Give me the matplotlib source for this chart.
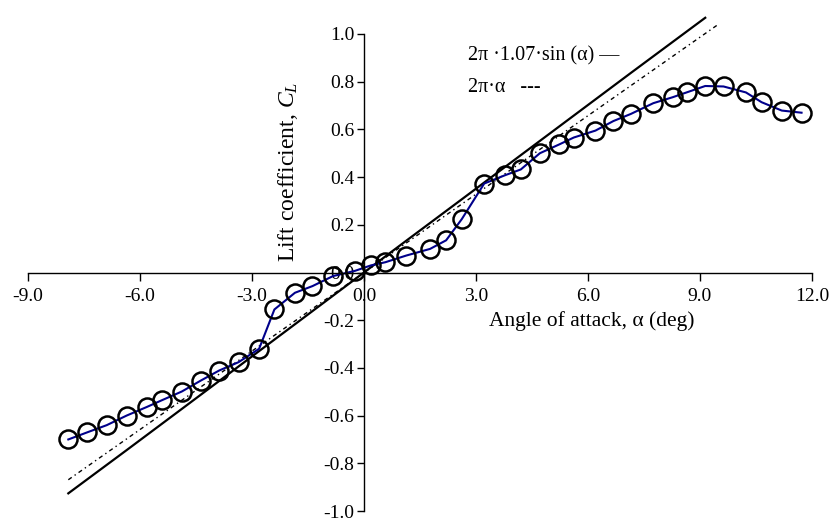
import matplotlib
matplotlib.use('Agg')
import matplotlib.pyplot as plt

plt.rcParams['font.family'] = ['Liberation Serif', 'DejaVu Serif']
plt.rcParams['mathtext.fontset'] = 'custom'
plt.rcParams['mathtext.rm'] = 'Liberation Serif'
plt.rcParams['mathtext.it'] = 'Liberation Serif:italic'

# measured points (deg, C_L)
alpha = [-7.92, -7.41, -6.89, -6.36, -5.82, -5.42, -4.88, -4.37, -3.88, -3.36,
         -2.81, -2.40, -1.85, -1.38, -0.83, -0.24, 0.19, 0.57, 1.13, 1.77,
         2.20, 2.62, 3.22, 3.78, 4.20, 4.71, 5.23, 5.62, 6.20, 6.68,
         7.15, 7.75, 8.27, 8.64, 9.14, 9.63, 10.23, 10.65, 11.19, 11.72]
cl = [-0.700, -0.670, -0.640, -0.600, -0.564, -0.536, -0.499, -0.453, -0.411, -0.376,
      -0.320, -0.155, -0.085, -0.057, -0.015, 0.007, 0.030, 0.043, 0.071, 0.099,
      0.135, 0.224, 0.373, 0.408, 0.432, 0.500, 0.537, 0.566, 0.595, 0.635,
      0.665, 0.710, 0.735, 0.755, 0.782, 0.780, 0.755, 0.714, 0.679, 0.670]

# 2pi*1.07*sin(alpha) curve
alpha_sin = [-7.92, -6.36, -4.88, -3.36, -1.85, -0.24, 1.13, 2.62, 4.20, 5.62, 7.15, 8.27, 9.14]
cl_sin = [-0.926, -0.745, -0.572, -0.394, -0.217, -0.028, 0.133, 0.307, 0.492, 0.658, 0.837, 0.967, 1.068]

# 2pi*alpha line
alpha_lin = [-7.92, 9.45]
cl_lin = [-0.869, 1.036]

xticks = [-9.0, -6.0, -3.0, 0.0, 3.0, 6.0, 9.0, 12.0]
yticks = [-1.0, -0.8, -0.6, -0.4, -0.2, 0.0, 0.2, 0.4, 0.6, 0.8, 1.0]

fig = plt.figure(figsize=(8.33, 5.2), dpi=100)
ax = fig.add_axes([28 / 833, 9 / 520, 784 / 833, 477 / 520])

ax.plot(alpha_sin, cl_sin, color='black', lw=1.6, clip_on=False)
ax.plot(alpha_lin, cl_lin, color='black', lw=1.0, ls=(0, (3, 2.5, 1, 2.5)), clip_on=False)
ax.plot(alpha, cl, color='#00008b', lw=1.5, clip_on=False)
ax.plot(alpha, cl, ls='none', marker='o', ms=13, mfc='none', mec='black', mew=1.8, clip_on=False)

ax.set_xlim(-9, 12)
ax.set_ylim(-1, 1)
ax.spines['left'].set_position(('data', 0))
ax.spines['bottom'].set_position(('data', 0))
ax.spines['top'].set_visible(False)
ax.spines['right'].set_visible(False)
for s in ['left', 'bottom']:
    ax.spines[s].set_linewidth(1.0)

ax.set_xticks(xticks)
ax.set_xticklabels([f'{v:.1f}' for v in xticks])
ax.set_yticks(yticks)
ax.set_yticklabels([f'{v:.1f}' for v in yticks])
ax.tick_params(axis='both', labelsize=14, width=1.0)
ax.tick_params(axis='x', length=6, pad=5)
ax.tick_params(axis='y', length=5, pad=2)

ax.set_ylabel('Lift coefficient, $C_L$', fontsize=17)
ax.yaxis.set_label_coords(0.347, 0.71)
ax.text(0.719, 0.398, 'Angle of attack, α (deg)', transform=ax.transAxes,
        fontsize=15.5, ha='center', va='center')

ax.text(2.79, 0.908, '2π ·1.07·sin (α) —', fontsize=14.5, va='center')
ax.text(2.79, 0.775, '2π·α   ---', fontsize=14.5, va='center')

fig.savefig('out.png', dpi=100)
